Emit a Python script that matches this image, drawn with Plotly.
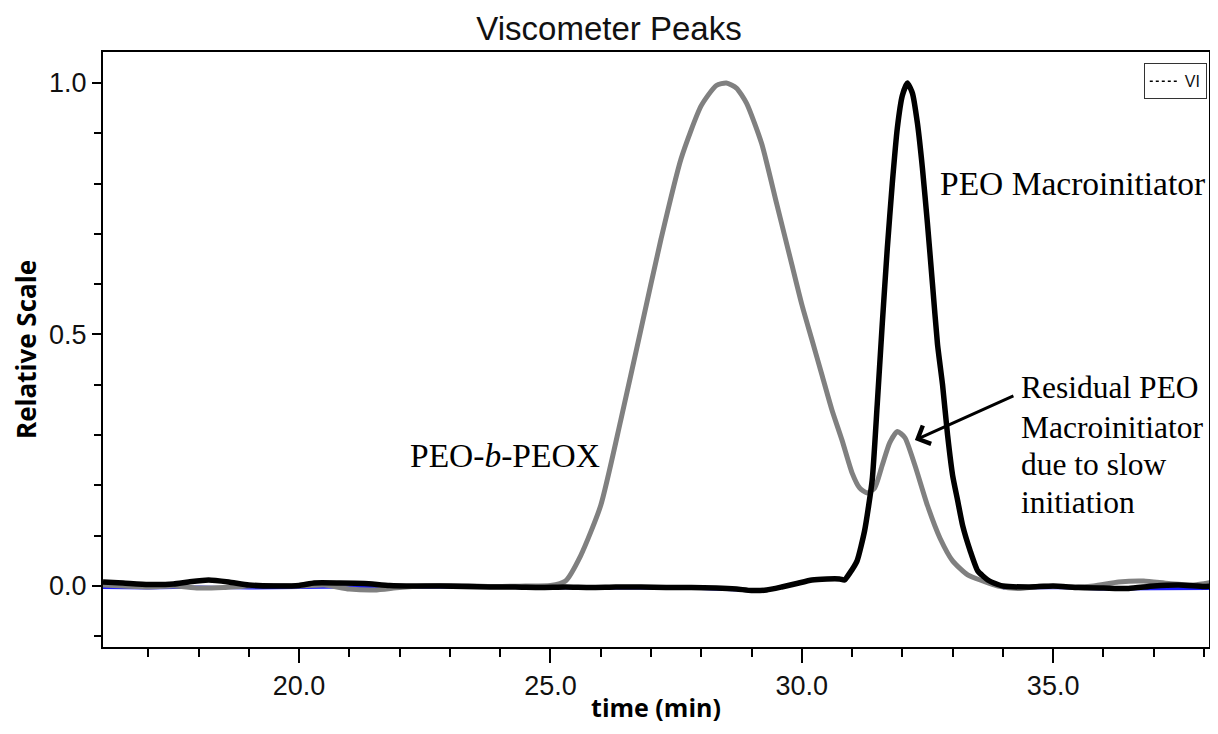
import plotly.graph_objects as go

# ---- data ----
peox_time = [16.1, 16.5, 17.0, 17.5, 18.0, 18.5, 19.0, 19.5, 20.0, 20.5, 21.0, 21.5, 22.0, 22.5,
             23.0, 23.5, 24.0, 24.5, 25.0, 25.3, 25.6, 26.0, 26.4, 26.8, 27.2, 27.6, 28.0, 28.3,
             28.5, 28.7, 28.9, 29.2, 29.5, 29.8, 30.0, 30.2, 30.4, 30.6, 30.8, 31.0, 31.15, 31.3,
             31.45, 31.6, 31.75, 31.9, 32.05, 32.25, 32.5, 32.75, 33.0, 33.3, 33.6, 33.9, 34.3,
             34.8, 35.3, 35.8, 36.3, 36.8, 37.3, 37.8, 38.2]
peox_value = [0.002, 0.0, -0.002, 0.0, -0.004, -0.003, 0.0, 0.001, 0.0, 0.002, -0.006, -0.008,
              -0.003, 0.0, 0.001, 0.0, -0.001, 0.0, 0.001, 0.01, 0.06, 0.16, 0.33, 0.51, 0.69,
              0.85, 0.955, 0.995, 1.0, 0.99, 0.96, 0.88, 0.76, 0.64, 0.56, 0.49, 0.42, 0.35, 0.29,
              0.225, 0.195, 0.185, 0.195, 0.24, 0.285, 0.307, 0.295, 0.24, 0.16, 0.095, 0.05,
              0.022, 0.01, 0.0, -0.005, 0.0, -0.002, 0.0, 0.008, 0.01, 0.005, 0.002, 0.008]

peo_time = [16.1, 16.5, 17.0, 17.5, 17.8, 18.2, 18.6, 19.0, 19.5, 20.0, 20.3, 20.8, 21.3, 21.8,
            22.3, 22.8, 23.3, 23.8, 24.3, 24.8, 25.3, 25.8, 26.3, 26.8, 27.3, 27.8, 28.3, 28.7,
            29.0, 29.3, 29.6, 29.9, 30.2, 30.5, 30.75, 30.85, 30.95, 31.1, 31.25, 31.4, 31.5,
            31.6, 31.7, 31.8, 31.9, 32.0, 32.1, 32.2, 32.3, 32.4, 32.5, 32.6, 32.7, 32.8, 32.9,
            33.0, 33.1, 33.2, 33.35, 33.5, 33.7, 33.9, 34.0, 34.5, 35.0, 35.5, 36.0, 36.5, 37.0,
            37.5, 38.0, 38.2]
peo_value = [0.008, 0.006, 0.003, 0.004, 0.008, 0.012, 0.008, 0.002, 0.0, 0.001, 0.006, 0.006,
             0.005, 0.001, 0.0, 0.0, -0.001, -0.002, -0.002, -0.003, -0.002, -0.003, -0.002,
             -0.002, -0.003, -0.003, -0.004, -0.006, -0.009, -0.008, -0.002, 0.005, 0.012, 0.014,
             0.014, 0.012, 0.025, 0.05, 0.11, 0.21, 0.36, 0.52, 0.67, 0.8, 0.91, 0.975, 1.0, 0.98,
             0.92, 0.83, 0.72, 0.6, 0.48, 0.40, 0.30, 0.22, 0.17, 0.12, 0.07, 0.03, 0.012, 0.003,
             0.0, -0.002, 0.0, -0.003, -0.004, -0.005, 0.0, 0.002, -0.001, 0.0]

blue_time = [16.1, 17.0, 18.0, 19.0, 20.0, 21.0, 22.0, 23.0, 24.0, 25.0, 26.0, 27.0, 28.0, 29.0,
             None, 34.0, 35.0, 36.0, 37.0, 38.2]
blue_value = [-0.003, -0.004, -0.002, -0.004, -0.003, -0.002, -0.003, -0.002, -0.003, -0.004,
              -0.004, -0.004, -0.005, -0.009, None, -0.004, -0.003, -0.006, -0.006, -0.005]

x_tickvals = [20, 25, 30, 35]
x_ticktext = ["20.0", "25.0", "30.0", "35.0"]
y_tickvals = [0, 0.5, 1.0]
y_ticktext = ["0.0", "0.5", "1.0"]

fig = go.Figure()
fig.add_trace(go.Scatter(x=blue_time, y=blue_value, mode="lines", connectgaps=False,
                         line=dict(color="#1a1aff", width=3), showlegend=False, hoverinfo="skip"))
fig.add_trace(go.Scatter(x=peox_time, y=peox_value, mode="lines", name="PEO-b-PEOX",
                         line=dict(color="#808080", width=5, shape="spline", smoothing=0.6),
                         showlegend=False))
fig.add_trace(go.Scatter(x=peo_time, y=peo_value, mode="lines", name="PEO Macroinitiator",
                         line=dict(color="#000000", width=5.5, shape="spline", smoothing=0.5),
                         showlegend=False))
fig.add_trace(go.Scatter(x=[None], y=[None], mode="lines", name="VI",
                         line=dict(color="#000000", width=1.5, dash="dot"), showlegend=True))

serif = dict(family="Liberation Serif, Times New Roman, serif", size=33.5, color="#000000")
serif_small = dict(family="Liberation Serif, Times New Roman, serif", size=31.5, color="#000000")

annotations = [
    dict(x=32.70, y=0.80, xref="x", yref="y", text="PEO Macroinitiator", showarrow=False,
         xanchor="left", yanchor="middle", font=serif),
    dict(x=22.17, y=0.26, xref="x", yref="y", text="PEO-<i>b</i>-PEOX", showarrow=False,
         xanchor="left", yanchor="middle", font=serif),
]
resid_lines = ["Residual PEO", "Macroinitiator", "due to slow", "initiation"]
resid_y = [0.395, 0.316, 0.241, 0.165]
for txt, yy in zip(resid_lines, resid_y):
    annotations.append(dict(x=34.33, y=yy, xref="x", yref="y", text=txt, showarrow=False,
                            xanchor="left", yanchor="middle", font=serif_small))
annotations.append(dict(x=32.25, y=0.29, xref="x", yref="y", text="", showarrow=True,
                        ax=100, ay=-45, arrowhead=4, arrowsize=1.3, arrowwidth=3,
                        arrowcolor="#000000"))

W, H = 1202, 716  # page body adds an 8px margin; keep the figure inside the window

fig.update_layout(
    width=W, height=H,
    paper_bgcolor="white", plot_bgcolor="white",
    margin=dict(l=95, r=1, t=44, b=77),
    title=dict(text="Viscometer Peaks", x=(609 - 8) / W, xref="container", xanchor="center",
               y=1 - (28 - 8) / H, yref="container", yanchor="middle",
               font=dict(family="Liberation Sans, Arial, sans-serif", size=33, color="#111111")),
    font=dict(family="Liberation Sans, Arial, sans-serif", color="#111111"),
    showlegend=True,
    legend=dict(x=0.998, xanchor="right", y=0.981, yanchor="top",
                bordercolor="#333333", borderwidth=1, bgcolor="white",
                font=dict(family="Liberation Sans, Arial, sans-serif", size=16, color="#111111"),
                itemwidth=30, tracegroupgap=0),
    annotations=annotations,
    xaxis=dict(range=[16.1, 38.1], tickvals=x_tickvals, ticktext=x_ticktext,
               ticks="outside", ticklen=14, tickwidth=2, tickcolor="#000000",
               showline=True, linewidth=2, linecolor="#000000", mirror=True,
               showgrid=False, zeroline=False,
               tickfont=dict(size=27, color="#111111"),
               minor=dict(dtick=1, tick0=0, ticks="outside", ticklen=8, tickwidth=2,
                          tickcolor="#000000", showgrid=False),
               title=dict(text="<b>time (min)</b>", standoff=4,
                          font=dict(family="Open Sans, sans-serif", size=25, color="#000000")),
               automargin=False),
    yaxis=dict(range=[-0.1213, 1.0616], tickvals=y_tickvals, ticktext=y_ticktext,
               ticks="outside", ticklen=9, tickwidth=2, tickcolor="#000000",
               showline=True, linewidth=2, linecolor="#000000", mirror=True,
               showgrid=False, zeroline=False,
               tickfont=dict(size=27, color="#111111"),
               minor=dict(dtick=0.1, tick0=0, ticks="outside", ticklen=7, tickwidth=2,
                          tickcolor="#000000", showgrid=False),
               title=dict(text="<b>Relative Scale</b>", standoff=12,
                          font=dict(family="Open Sans, sans-serif", size=26, color="#000000")),
               automargin=False),
)

fig.write_html("out.html")
